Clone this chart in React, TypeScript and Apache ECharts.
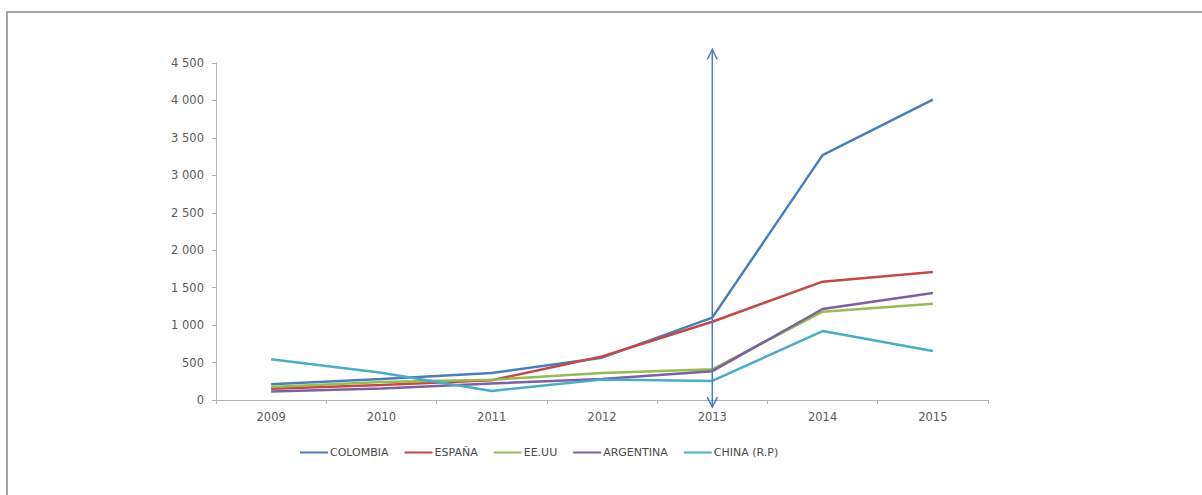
import React, { useEffect, useRef } from "react";
import * as echarts from "echarts";

// Years on the category axis
const years = ["2009", "2010", "2011", "2012", "2013", "2014", "2015"];

// Series values per country
const colombia = [210, 280, 360, 565, 1100, 3270, 4010];
const espana = [150, 200, 265, 580, 1045, 1580, 1710];
const eeuu = [175, 240, 270, 360, 410, 1180, 1285];
const argentina = [115, 155, 220, 280, 385, 1215, 1430];
const china = [545, 365, 120, 275, 255, 920, 655];

const seriesNames = ["COLOMBIA", "ESPAÑA", "EE.UU", "ARGENTINA", "CHINA (R.P)"];
const seriesColors = ["#4a7ebb", "#be4b48", "#98b954", "#7d60a0", "#4bacc6"];

// Year marked by the double-headed vertical arrow, and the value span it covers
const arrowYear = "2013";
const arrowSpan = [-95, 4680];

const formatThousands = (v: number) =>
  String(v).replace(/\B(?=(\d{3})+(?!\d))/g, " ");

export default function App() {
  const ref = useRef<HTMLDivElement>(null);

  useEffect(() => {
    document.body.style.margin = "0";
    const chart = echarts.init(ref.current!, undefined, { renderer: "svg" });
    const values = [colombia, espana, eeuu, argentina, china];
    const font = "'DejaVu Sans', 'Noto Sans', sans-serif";

    const lineSeries = values.map((data, i) => ({
      name: seriesNames[i],
      type: "line" as const,
      data,
      symbol: "none",
      lineStyle: { width: 2.5, color: seriesColors[i] },
      itemStyle: { color: seriesColors[i] },
      z: 2 + i,
    }));

    chart.setOption({
      animation: false,
      backgroundColor: "#ffffff",
      graphic: [
        {
          type: "rect",
          shape: { x: 7, y: 12, width: 1400, height: 700 },
          style: { fill: "none", stroke: "#a3a3a3", lineWidth: 2 },
          silent: true,
        },
      ],
      grid: { left: 216, right: 214, top: 63, bottom: 95, containLabel: false },
      legend: {
        bottom: 32,
        left: 295,
        icon: "rect",
        itemWidth: 28,
        itemHeight: 2,
        itemGap: 16,
        data: seriesNames,
        textStyle: { fontSize: 11, color: "#4a4a4a", fontFamily: font, padding: [0, 0, 0, -3] },
      },
      xAxis: {
        type: "category",
        data: years,
        boundaryGap: true,
        axisLine: { lineStyle: { color: "#b3b3b3", width: 1 } },
        axisTick: { show: true, length: 4, lineStyle: { color: "#b3b3b3" } },
        axisLabel: { fontSize: 11.5, color: "#5a5a5a", fontFamily: font, margin: 11 },
        splitLine: { show: false },
      },
      yAxis: {
        type: "value",
        min: 0,
        max: 4500,
        interval: 500,
        axisLine: { show: true, lineStyle: { color: "#b3b3b3", width: 1 } },
        axisTick: { show: true, length: 4, lineStyle: { color: "#b3b3b3" } },
        axisLabel: {
          fontSize: 11.5,
          color: "#5a5a5a",
          fontFamily: font,
          margin: 12,
          formatter: (v: number) => formatThousands(v),
        },
        splitLine: { show: false },
      },
      series: [
        ...lineSeries,
        {
          type: "custom",
          name: "arrow",
          data: [[arrowYear]],
          z: 10,
          silent: true,
          renderItem: (_params: any, api: any) => {
            const bottom = api.coord([arrowYear, arrowSpan[0]]);
            const top = api.coord([arrowYear, arrowSpan[1]]);
            const x = top[0];
            const head = 10;
            const half = 5;
            const style = { stroke: "#4a7ebb", lineWidth: 1.5, fill: "none" };
            return {
              type: "group",
              children: [
                { type: "line", shape: { x1: x, y1: bottom[1], x2: x, y2: top[1] }, style },
                {
                  type: "polyline",
                  shape: { points: [[x - half, top[1] + head], [x, top[1]], [x + half, top[1] + head]] },
                  style,
                },
                {
                  type: "polyline",
                  shape: { points: [[x - half, bottom[1] - head], [x, bottom[1]], [x + half, bottom[1] - head]] },
                  style,
                },
              ],
            };
          },
        },
      ],
    });

    return () => chart.dispose();
  }, []);

  return <div ref={ref} style={{ width: 1202, height: 495 }} />;
}
